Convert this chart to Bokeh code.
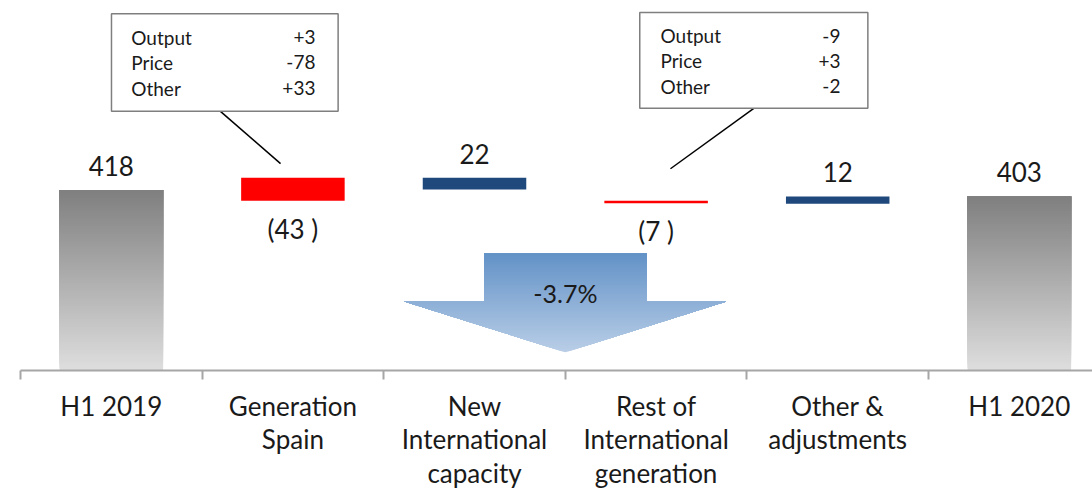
from bokeh.plotting import figure
from bokeh.models import FixedTicker, Range1d
from bokeh.core.properties import value
from bokeh.embed import file_html
from bokeh.resources import INLINE

# ---------------- data ----------------
categories = ["H1 2019", "Generation\nSpain", "New\nInternational\ncapacity",
              "Rest of\nInternational\ngeneration", "Other &\nadjustments", "H1 2020"]
values = [418, -43, 22, -7, 12, 403]
kinds = ["total", "neg", "pos", "neg", "pos", "total"]
value_labels = ["418", "(43 )", "22", "(7 )", "12", "403"]
# bar extents as drawn in the picture (axis is not a strict waterfall)
bar_low = [0, 393, 419, 387, 386, 0]
bar_high = [418, 446, 446, 393, 403, 403]

box_rows = ["Output", "Price", "Other"]
gen_spain_breakdown = ["+3", "-78", "+33"]
rest_intl_breakdown = ["-9", "+3", "-2"]
change_label = "-3.7%"

# ---------------- styles ----------------
FONT = "Lato"
TXT = "#1a1a1a"
NAVY = "#1f497d"
RED = "#ff0000"
GRAY_TOP = (0x7f, 0x7f, 0x7f)
GRAY_BOT = (0xde, 0xde, 0xde)
ARROW_TOP = (0x63, 0x92, 0xc7)
ARROW_BOT = (0xb9, 0xce, 0xe7)
AX = "#a6a6a6"
BAR_W = 0.57

def mix(c1, c2, t):
    return "#%02x%02x%02x" % tuple(int(round(a + (b - a) * t)) for a, b in zip(c1, c2))

p = figure(frame_width=1072, frame_height=362, x_range=Range1d(0, 5.903), y_range=Range1d(0, 838),
           output_backend="svg", toolbar_location=None, y_axis_location=None,
           min_border_left=20, min_border_right=0, min_border_top=8, min_border_bottom=119)
p.xgrid.visible = False
p.ygrid.visible = False
p.outline_line_color = None
p.background_fill_color = "white"

xc = [i + 0.5 for i in range(len(categories))]

# ---------------- bars ----------------
# total bars: vertical gradient built from layered slices (each slice runs to the bar top)
N = 70
gl, gr, gb, gt, gcol = [], [], [], [], []
for i, k in enumerate(kinds):
    if k != "total":
        continue
    lo, hi = bar_low[i], bar_high[i]
    for j in range(N):
        gl.append(xc[i] - BAR_W / 2)
        gr.append(xc[i] + BAR_W / 2)
        gb.append(lo + (hi - lo) * j / N)
        gt.append(hi)
        gcol.append(mix(GRAY_BOT, GRAY_TOP, (j + 0.5) / N))
p.quad(left=gl, right=gr, bottom=gb, top=gt, fill_color=gcol, line_color=None)

dl, dr, db, dt, dc = [], [], [], [], []
for i, k in enumerate(kinds):
    if k == "total":
        continue
    dl.append(xc[i] - BAR_W / 2)
    dr.append(xc[i] + BAR_W / 2)
    db.append(bar_low[i])
    dt.append(bar_high[i])
    dc.append(RED if values[i] < 0 else NAVY)
p.quad(left=dl, right=dr, bottom=db, top=dt, fill_color=dc, line_color=None)

# value labels
ly, loff = [], []
for i, v in enumerate(values):
    if v < 0:
        ly.append(bar_low[i]); loff.append(28)
    else:
        ly.append(bar_high[i]); loff.append(-24)
p.text(x=xc, y=ly, text=value_labels, y_offset=loff, text_font=value(FONT),
       text_font_size="26px", text_color=TXT, text_align="center", text_baseline="middle")

# ---------------- arrow ----------------
A_X, A_BODY, A_WING = 3.0, 0.446, 0.887
A_TOP, A_SH, A_TIP = 270, 160, 42

def arrow_above(y0):
    if y0 < A_SH:
        hw = A_WING * (y0 - A_TIP) / (A_SH - A_TIP)
        xs = [A_X - hw, A_X - A_WING, A_X - A_BODY, A_X - A_BODY,
              A_X + A_BODY, A_X + A_BODY, A_X + A_WING, A_X + hw]
        ys = [y0, A_SH, A_SH, A_TOP, A_TOP, A_SH, A_SH, y0]
    else:
        xs = [A_X - A_BODY, A_X - A_BODY, A_X + A_BODY, A_X + A_BODY]
        ys = [y0, A_TOP, A_TOP, y0]
    return xs, ys

axs, ays, acol = [], [], []
NA = 90
for j in range(NA):
    y0 = A_TIP + (A_TOP - A_TIP) * j / NA
    xs, ys = arrow_above(y0)
    axs.append(xs)
    ays.append(ys)
    acol.append(mix(ARROW_BOT, ARROW_TOP, (j + 0.5) / NA))
p.patches(xs=axs, ys=ays, fill_color=acol, line_color=None)
p.text(x=[A_X], y=[180], text=[change_label], text_font=value(FONT), text_font_size="25px",
       text_color=TXT, text_align="center", text_baseline="middle")

# ---------------- callout boxes ----------------
def callout(left, right, top, bottom, rows_y, tx_l, tx_r, vals, line_x, line_y):
    p.line(x=line_x, y=line_y, line_color="black", line_width=1.5)
    p.quad(left=[left], right=[right], top=[top], bottom=[bottom], fill_color="white",
           line_color="#7f7f7f", line_width=1.5)
    p.text(x=[tx_l] * 3, y=rows_y, text=box_rows, text_font=value(FONT), text_font_size="19px",
           text_color=TXT, text_align="left", text_baseline="middle")
    p.text(x=[tx_r] * 3, y=rows_y, text=vals, text_font=value(FONT), text_font_size="19px",
           text_color=TXT, text_align="right", text_baseline="middle")

callout(0.501, 1.749, 826, 600, [771, 713, 653], 0.61, 1.624, gen_spain_breakdown,
        [1.101, 1.432], [600, 479])
callout(3.410, 4.666, 829, 607, [775, 717, 658], 3.524, 4.515, rest_intl_breakdown,
        [4.038, 3.579], [607, 467])

# ---------------- axis ----------------
ax = p.xaxis[0]
ax.ticker = FixedTicker(ticks=xc, minor_ticks=list(range(len(categories) + 1)))
ax.major_label_overrides = {x: c for x, c in zip(xc, categories)}
ax.major_tick_out = 0
ax.major_tick_in = 0
ax.minor_tick_out = 9
ax.minor_tick_in = 0
ax.minor_tick_line_color = AX
ax.minor_tick_line_width = 2
ax.axis_line_color = AX
ax.axis_line_width = 2
ax.major_label_text_font = FONT
ax.major_label_text_font_size = "26px"
ax.major_label_text_color = TXT
ax.major_label_text_line_height = 1.06
ax.major_label_standoff = 10

open("out.html", "w").write(file_html(p, INLINE))
